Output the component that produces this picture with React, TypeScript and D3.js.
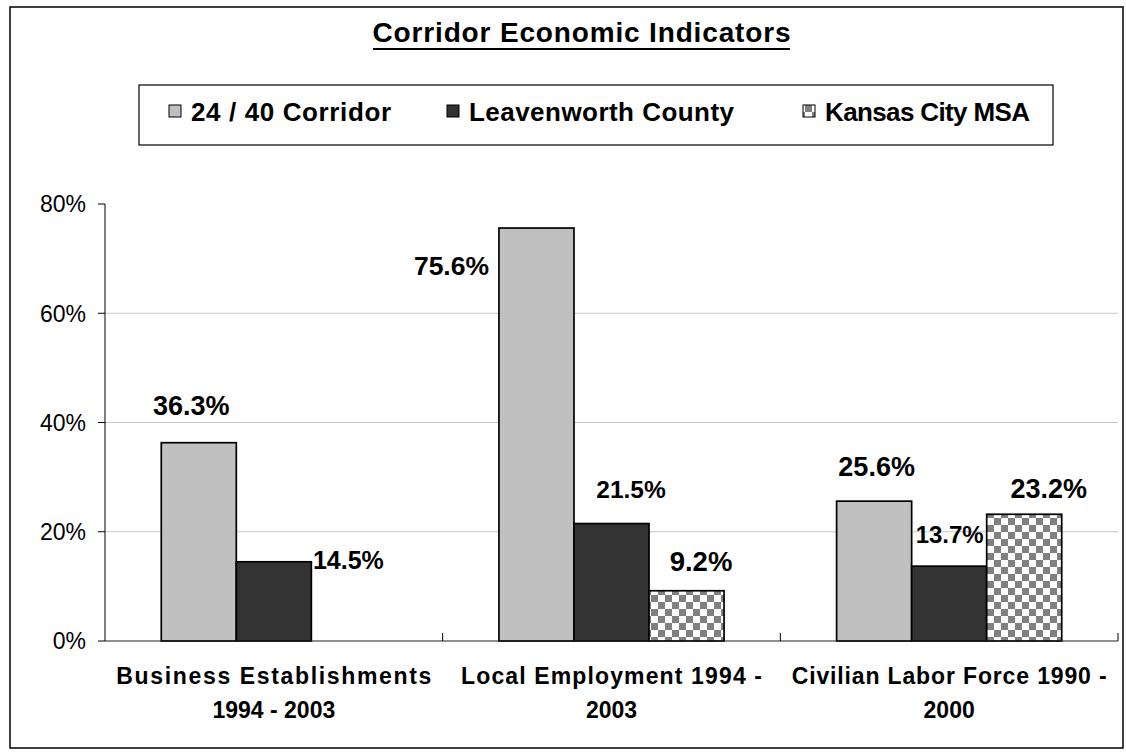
import React from "react";
import * as d3 from "d3";

const categories = ["Business Establishments 1994 - 2003", "Local Employment 1994 - 2003", "Civilian Labor Force 1990 - 2000"];
const categoryLines = [["Business Establishments", "1994 - 2003"], ["Local Employment 1994 -", "2003"], ["Civilian Labor Force 1990 -", "2000"]];
const seriesNames = ["24 / 40 Corridor", "Leavenworth County", "Kansas City MSA"];
const corridor = [36.3, 75.6, 25.6];
const leavenworth = [14.5, 21.5, 13.7];
const kcMsa: (number | null)[] = [null, 9.2, 23.2];
const yTicks = [0, 20, 40, 60, 80];

// label placement styles (offsets relative to bar center / bar top), per [category][series]
const labelStyle = [
  [{ dx: -7.5, dy: -28, fs: 27 }, { dx: 74.5, dy: 7, fs: 25 }, null],
  [{ dx: -85, dy: 47, fs: 26.5 }, { dx: 19.5, dy: -26, fs: 24.5 }, { dx: 14.5, dy: -20, fs: 27.5 }],
  [{ dx: 2.5, dy: -25, fs: 27 }, { dx: 0.5, dy: -23, fs: 24 }, { dx: 24.5, dy: -16, fs: 27 }],
];
const catLine1Width = [315, 301, 315];
const legendTextWidth = [200, 265, 205];

const FONT = "'Liberation Sans', Arial, sans-serif";
const fills = ["#C0C0C0", "#333333", "url(#checker)"];

export default function App() {
  const W = 1126, H = 754;
  const left = 105, right = 1118, top = 204, bottom = 641;
  const x0 = d3.scaleBand<string>().domain(categories).range([left, right]).padding(0);
  const x1 = d3.scaleBand<string>().domain(seriesNames).range([0, x0.bandwidth()]).paddingInner(0).paddingOuter(0.75);
  const y = d3.scaleLinear().domain([0, 80]).range([bottom, top]);
  const series = [corridor, leavenworth, kcMsa];
  const fmt = (v: number) => d3.format(".1f")(v) + "%";

  const legendItems = [
    { sx: 169, tx: 191 },
    { sx: 447, tx: 469 },
    { sx: 803, tx: 825 },
  ];

  return (
    <svg width={W} height={H} style={{ position: "absolute", left: 0, top: 0, background: "#fff" }} fontFamily={FONT}>
      <defs>
        <pattern id="checker" width={14} height={14} patternUnits="userSpaceOnUse">
          <rect width={14} height={14} fill="#fff" />
          <rect width={7} height={7} fill="#808080" />
          <rect x={7} y={7} width={7} height={7} fill="#808080" />
        </pattern>
      </defs>
      <rect x={10} y={7} width={1113} height={741} fill="#fff" stroke="#000" strokeWidth={1.5} />

      {/* title */}
      <text x={581.5} y={42} textAnchor="middle" fontSize={28} fontWeight="bold" textLength={418} lengthAdjust="spacing">Corridor Economic Indicators</text>
      <line x1={373} x2={790} y1={49} y2={49} stroke="#000" strokeWidth={2.2} />

      {/* legend */}
      <rect x={139} y={85} width={914} height={60} fill="#fff" stroke="#000" strokeWidth={1.2} />
      {seriesNames.map((s, i) => (
        <g key={s}>
          <rect x={legendItems[i].sx} y={105} width={12} height={12} fill={fills[i]} stroke="#000" strokeWidth={1} />
          <text x={legendItems[i].tx} y={120.5} fontSize={26} fontWeight="bold" textLength={legendTextWidth[i]} lengthAdjust="spacing">{s}</text>
        </g>
      ))}

      {/* gridlines */}
      {yTicks.filter(t => t > 0 && t < 80).map(t => (
        <line key={t} x1={left} x2={right} y1={y(t)} y2={y(t)} stroke="#C8C8C8" strokeWidth={1} />
      ))}

      {/* bars */}
      {categories.map((c, ci) => (
        <g key={c}>
          {series.map((arr, si) => {
            const v = arr[ci];
            if (v == null) return null;
            const bx = (x0(c) ?? 0) + (x1(seriesNames[si]) ?? 0);
            return (
              <rect key={si} x={bx} y={y(v)} width={x1.bandwidth()} height={y(0) - y(v)} fill={fills[si]} stroke="#000" strokeWidth={1.7} />
            );
          })}
        </g>
      ))}

      {/* labels */}
      {categories.map((c, ci) => (
        <g key={c + "l"}>
          {series.map((arr, si) => {
            const v = arr[ci];
            const st = labelStyle[ci][si];
            if (v == null || !st) return null;
            const cx = (x0(c) ?? 0) + (x1(seriesNames[si]) ?? 0) + x1.bandwidth() / 2;
            return (
              <text key={si} x={cx + st.dx} y={y(v) + st.dy} textAnchor="middle" fontSize={st.fs} fontWeight="bold">{fmt(v)}</text>
            );
          })}
        </g>
      ))}

      {/* axes */}
      <line x1={left} x2={left} y1={top} y2={bottom} stroke="#000" strokeWidth={1} />
      <line x1={left} x2={right} y1={bottom} y2={bottom} stroke="#222" strokeWidth={1.2} />
      {yTicks.map(t => (
        <g key={t}>
          <line x1={left - 7} x2={left} y1={y(t)} y2={y(t)} stroke="#000" />
          <text x={86} y={y(t)} dy="0.36em" textAnchor="end" fontSize={23}>{t}%</text>
        </g>
      ))}
      {categories.map((c) => {
        const xe = (x0(c) ?? 0) + x0.bandwidth();
        return <line key={c + "t"} x1={xe} x2={xe} y1={bottom - 8} y2={bottom} stroke="#000" />;
      })}
      {categories.map((c, ci) => {
        const cx = (x0(c) ?? 0) + x0.bandwidth() / 2;
        return (
          <g key={c + "x"}>
            <text x={cx} y={684} textAnchor="middle" fontSize={23} fontWeight="bold" textLength={catLine1Width[ci]} lengthAdjust="spacing">{categoryLines[ci][0]}</text>
            <text x={cx} y={718} textAnchor="middle" fontSize={23} fontWeight="bold">{categoryLines[ci][1]}</text>
          </g>
        );
      })}
    </svg>
  );
}
